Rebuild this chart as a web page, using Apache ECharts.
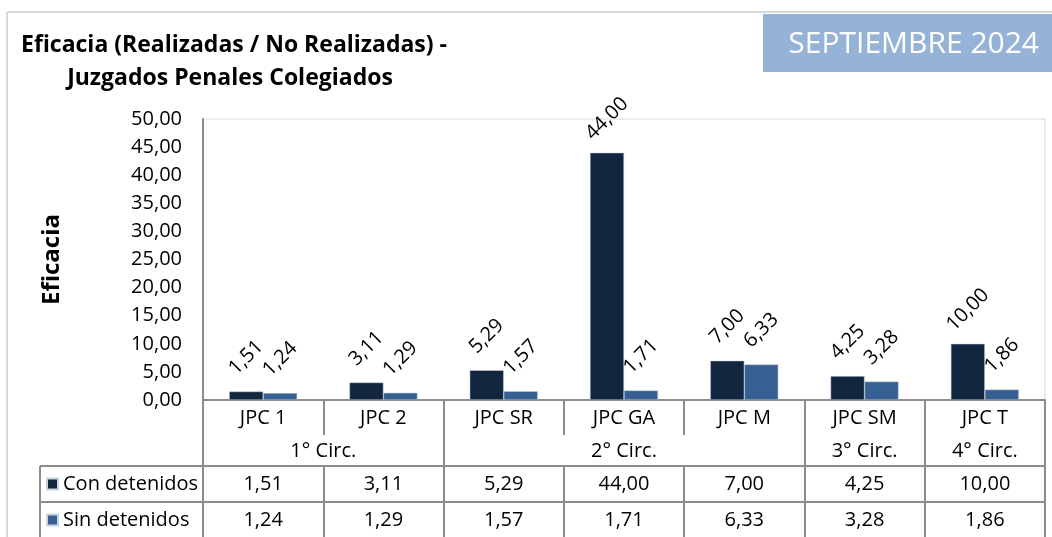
<!DOCTYPE html>
<html>
<head>
<meta charset="utf-8">
<title>Eficacia - Juzgados Penales Colegiados</title>
<script src="https://cdn.jsdelivr.net/npm/echarts@6/dist/echarts.min.js"></script>
<style>
  html, body { margin: 0; padding: 0; background: #fff; }
  #chart { width: 1052px; height: 537px; }
</style>
</head>
<body>
<div id="chart"></div>
<script>
// datos del gráfico
const categories = ['JPC 1', 'JPC 2', 'JPC SR', 'JPC GA', 'JPC M', 'JPC SM', 'JPC T']
const conDetenidos = [1.51, 3.11, 5.29, 44.00, 7.00, 4.25, 10.00]
const sinDetenidos = [1.24, 1.29, 1.57, 1.71, 6.33, 3.28, 1.86]
const circNames = ['1° Circ.', '2° Circ.', '3° Circ.', '4° Circ.']
const circSpans = [2, 3, 1, 1]
const yTicks = { min: 0, max: 50, interval: 5 }

const FONT = '"Open Sans", "Noto Sans", sans-serif'
const FS = 20
const GRID_LINE = '#8c8c8c'
const fmt = v => v.toFixed(2).replace('.', ',')

// fila de circunscripciones: ejes en medias categorías
const circSlots = new Array(categories.length * 2 + 1).fill('')
const circBounds = [0]
let start = 0
circNames.forEach((name, i) => {
  circSlots[start * 2 + circSpans[i]] = name
  start += circSpans[i]
  circBounds.push(start * 2)
})

const myChart = echarts.init(document.getElementById('chart'))

const tableLabel = {
  color: '#000',
  fontSize: FS,
  fontFamily: FONT,
  interval: 0
}

const legendText = { color: '#000', fontSize: 20, fontFamily: FONT }

const barLabel = {
  show: true,
  position: 'top',
  distance: 34,
  rotate: 45,
  align: 'center',
  verticalAlign: 'middle',
  color: '#000',
  fontSize: FS,
  fontFamily: FONT,
  formatter: p => fmt(p.value)
}

const option = {
  animation: false,
  textStyle: { fontFamily: FONT },
  grid: {
    left: 203,
    right: 7,
    top: 119,
    bottom: 137,
    show: true,
    borderColor: '#d9d9d9',
    borderWidth: 1,
    outerBoundsMode: 'none'
  },
  legend: [
    {
      left: 46, top: 474, padding: 0,
      itemWidth: 11, itemHeight: 11, itemGap: 6,
      icon: 'rect', selectedMode: false,
      textStyle: legendText,
      data: ['Con detenidos']
    },
    {
      left: 46, top: 510, padding: 0,
      itemWidth: 11, itemHeight: 11, itemGap: 6,
      icon: 'rect', selectedMode: false,
      textStyle: legendText,
      data: ['Sin detenidos']
    }
  ],
  xAxis: [
    {
      type: 'category',
      position: 'bottom',
      data: categories,
      axisLine: { lineStyle: { color: GRID_LINE, width: 2 } },
      axisTick: { show: true, interval: 0, length: 35, lineStyle: { color: GRID_LINE, width: 2 } },
      axisLabel: { ...tableLabel, margin: 8 }
    },
    {
      type: 'category',
      position: 'bottom',
      boundaryGap: false,
      data: circSlots,
      axisLine: { show: false },
      axisTick: {
        show: true,
        interval: (idx) => circBounds.includes(idx),
        length: 66,
        lineStyle: { color: GRID_LINE, width: 2 }
      },
      axisLabel: { ...tableLabel, margin: 41 }
    },
    {
      type: 'category',
      position: 'bottom',
      offset: 66,
      data: categories,
      axisLine: { lineStyle: { color: GRID_LINE, width: 2 } },
      axisTick: { show: true, interval: 0, length: 36, lineStyle: { color: GRID_LINE, width: 2 } },
      axisLabel: { ...tableLabel, margin: 8, formatter: (v, i) => fmt(conDetenidos[i]) }
    },
    {
      type: 'category',
      position: 'bottom',
      offset: 102,
      data: categories,
      axisLine: { lineStyle: { color: GRID_LINE, width: 2 } },
      axisTick: { show: true, interval: 0, length: 36, lineStyle: { color: GRID_LINE, width: 2 } },
      axisLabel: { ...tableLabel, margin: 8, formatter: (v, i) => fmt(sinDetenidos[i]) }
    }
  ],
  yAxis: {
    type: 'value',
    min: yTicks.min,
    max: yTicks.max,
    interval: yTicks.interval,
    name: 'Eficacia',
    nameLocation: 'middle',
    nameRotate: 90,
    nameGap: 139,
    nameTextStyle: { color: '#000', fontSize: 24, fontWeight: 'bold', fontFamily: FONT },
    axisLine: { show: true, lineStyle: { color: GRID_LINE, width: 2 } },
    axisTick: { show: false },
    splitLine: { show: false },
    axisLabel: {
      color: '#000',
      fontSize: FS,
      fontFamily: FONT,
      margin: 21,
      formatter: v => fmt(v)
    }
  },
  series: [
    {
      name: 'Con detenidos',
      type: 'bar',
      xAxisIndex: 0,
      barWidth: 34,
      barGap: '0%',
      data: conDetenidos,
      itemStyle: { color: '#132640', borderColor: '#c9d3e0', borderWidth: 0.5 },
      label: barLabel
    },
    {
      name: 'Sin detenidos',
      type: 'bar',
      xAxisIndex: 0,
      barWidth: 34,
      data: sinDetenidos,
      itemStyle: { color: '#376092', borderColor: '#c9d3e0', borderWidth: 0.5 },
      label: barLabel
    }
  ],
  graphic: [
    // marco exterior
    { type: 'line', shape: { x1: 7, y1: 12, x2: 1052, y2: 12 }, style: { stroke: '#d9d9d9', lineWidth: 2 } },
    { type: 'line', shape: { x1: 7, y1: 12, x2: 7, y2: 537 }, style: { stroke: '#d9d9d9', lineWidth: 2 } },
    // recuadro del mes
    { type: 'rect', shape: { x: 763, y: 14, width: 289, height: 58 }, style: { fill: '#95b3d7' } },
    {
      type: 'text', x: 1039, y: 44,
      style: { text: 'SEPTIEMBRE 2024', fill: '#fff', font: '30px "Open Sans", sans-serif', align: 'right', verticalAlign: 'middle' }
    },
    // título
    {
      type: 'text', x: 234, y: 45,
      style: { text: 'Eficacia (Realizadas / No Realizadas) -', fill: '#000', font: 'bold 23px "Open Sans", sans-serif', align: 'center', verticalAlign: 'middle' }
    },
    {
      type: 'text', x: 230, y: 78,
      style: { text: 'Juzgados Penales Colegiados', fill: '#000', font: 'bold 23px "Open Sans", sans-serif', align: 'center', verticalAlign: 'middle' }
    },
    // bordes de la columna de leyenda de la tabla
    { type: 'line', shape: { x1: 40, y1: 466, x2: 203, y2: 466 }, style: { stroke: GRID_LINE, lineWidth: 2 } },
    { type: 'line', shape: { x1: 40, y1: 502, x2: 203, y2: 502 }, style: { stroke: GRID_LINE, lineWidth: 2 } },
    { type: 'line', shape: { x1: 40, y1: 466, x2: 40, y2: 537 }, style: { stroke: GRID_LINE, lineWidth: 2 } },
    { type: 'line', shape: { x1: 1045, y1: 400, x2: 1045, y2: 537 }, style: { stroke: GRID_LINE, lineWidth: 2 } }
  ]
}

myChart.setOption(option)
</script>
</body>
</html>
